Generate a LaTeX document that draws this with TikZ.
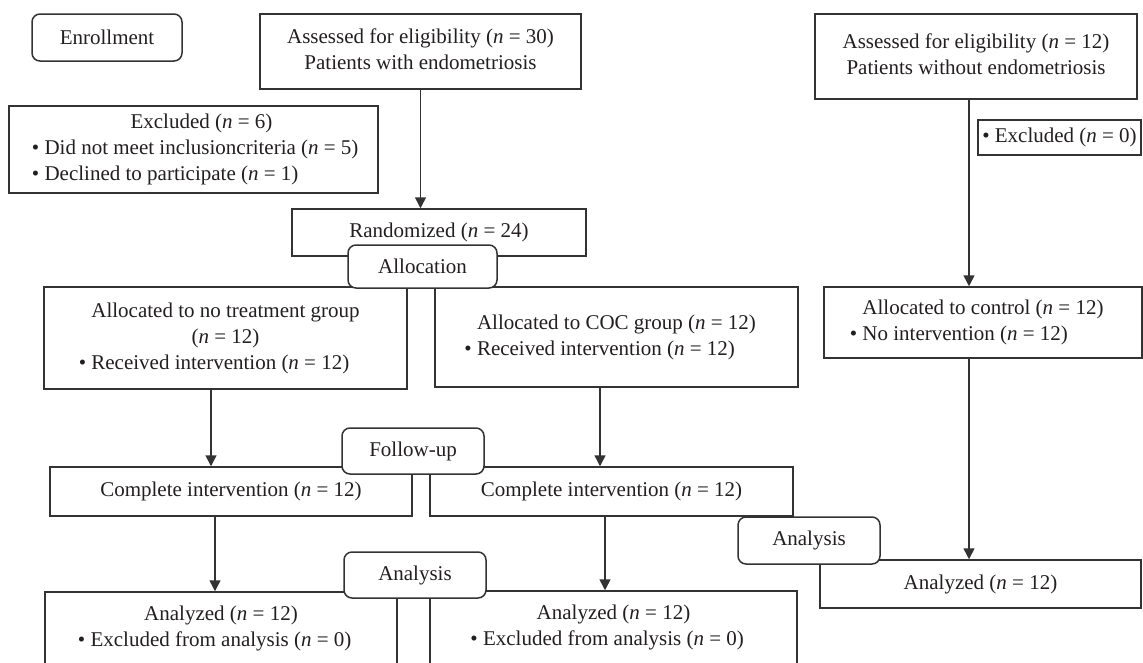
\documentclass[tikz,border=0pt]{standalone}
\usepackage{fontspec}
\setmainfont{Liberation Serif}
\usetikzlibrary{arrows.meta}
\definecolor{linec}{HTML}{333333}
\definecolor{txtc}{HTML}{231F20}
\newcommand{\hangbul}{\llap{\textbullet\ }}
\tikzset{
  flowbox/.style={draw=linec, line width=1.5pt, fill=white, inner sep=0pt, text=txtc,
    font=\fontsize{21}{26}\selectfont},
  stagebox/.style={flowbox, rounded corners=8pt},
  arr/.style={draw=linec, line width=1.5pt, -{Triangle[length=11pt,width=11pt]}}
}
\begin{document}
\begin{tikzpicture}[x=1pt,y=-1pt]
\clip (0,0) rectangle (1143,662);
\fill[white] (0,0) rectangle (1143,662);

% enrollment column
\node[stagebox, minimum width=150, minimum height=47] (enroll) at (107,37.5) {Enrollment};
\node[flowbox, minimum width=321, minimum height=75] (a1) at (420.5,51.5)
  {\begin{tabular}{@{}c@{}}Assessed for eligibility (\textit{n} = 30)\\Patients with endometriosis\end{tabular}};
\node[flowbox, minimum width=369, minimum height=87] (ex1) at (193.5,149.5)
  {\hspace*{16pt}\begin{tabular}{@{}l@{}}\multicolumn{1}{@{}c@{}}{Excluded (\textit{n} = 6)}\\
   \hangbul Did not meet inclusioncriteria (\textit{n} = 5)\\
   \hangbul Declined to participate (\textit{n} = 1)\end{tabular}};
\node[flowbox, minimum width=322, minimum height=85] (a2) at (976,56.5)
  {\begin{tabular}{@{}c@{}}Assessed for eligibility (\textit{n} = 12)\\Patients without endometriosis\end{tabular}};
\node[flowbox, minimum width=163, minimum height=35] (ex2) at (1059.5,137.5)
  {\textbullet\ Excluded (\textit{n} = 0)};
\node[flowbox, minimum width=294, minimum height=47] (rand) at (439,232.5)
  {Randomized (\textit{n} = 24)};

% allocation
\node[flowbox, minimum width=363, minimum height=102] (g1) at (225.5,338)
  {\begin{tabular}{@{}l@{}}Allocated to no treatment group\\
   \multicolumn{1}{@{}c@{}}{(\textit{n} = 12)}\\
   \hangbul Received intervention (\textit{n} = 12)\end{tabular}};
\node[flowbox, minimum width=363, minimum height=100] (g2) at (616.5,337)
  {\begin{tabular}{@{}l@{}}Allocated to COC group (\textit{n} = 12)\\
   \hangbul Received intervention (\textit{n} = 12)\end{tabular}};
\node[flowbox, minimum width=318, minimum height=71] (ctl) at (983,322.5)
  {\begin{tabular}{@{}l@{}}Allocated to control (\textit{n} = 12)\\
   \hangbul No intervention (\textit{n} = 12)\end{tabular}};

% follow-up
\node[flowbox, minimum width=362, minimum height=49] (c1) at (231,491.5)
  {Complete intervention (\textit{n} = 12)};
\node[flowbox, minimum width=363, minimum height=49] (c2) at (611.5,491.5)
  {Complete intervention (\textit{n} = 12)};

% analysis
\node[flowbox, minimum width=321, minimum height=48] (an3) at (980.5,584)
  {Analyzed (\textit{n} = 12)};
\node[flowbox, minimum width=352, minimum height=73] (an1) at (221,628.5)
  {\begin{tabular}{@{}l@{}}\multicolumn{1}{@{}c@{}}{Analyzed (\textit{n} = 12)}\\
   \hangbul Excluded from analysis (\textit{n} = 0)\end{tabular}};
\node[flowbox, minimum width=367, minimum height=73] (an2) at (613.5,627.5)
  {\begin{tabular}{@{}l@{}}\multicolumn{1}{@{}c@{}}{Analyzed (\textit{n} = 12)}\\
   \hangbul Excluded from analysis (\textit{n} = 0)\end{tabular}};

% connectors
\draw[arr] (a1.south) -- (a1.south |- rand.north);
\draw[arr] ([xshift=-14.5pt]g1.south) -- ([xshift=-14.5pt]g1.south |- c1.north);
\draw[arr] ([xshift=-16.5pt]g2.south) -- ([xshift=-16.5pt]g2.south |- c2.north);
\draw[arr] ([xshift=-16pt]c1.south) -- ([xshift=-16pt]c1.south |- an1.north);
\draw[arr] ([xshift=-6.5pt]c2.south) -- ([xshift=-6.5pt]c2.south |- an2.north);
\draw[arr] ([xshift=-7pt]a2.south) -- ([xshift=-7pt]a2.south |- ctl.north);
\draw[arr] ([xshift=-14pt]ctl.south) -- ([xshift=-14pt]ctl.south |- an3.north);

% stage labels on top
\node[stagebox, minimum width=149, minimum height=43] (alloc) at (422.5,266.5) {Allocation};
\node[stagebox, minimum width=142, minimum height=46] (fu) at (413,451) {Follow-up};
\node[stagebox, minimum width=142, minimum height=46] (ana1) at (415,575) {Analysis};
\node[stagebox, minimum width=142, minimum height=47] (ana2) at (809,540.5) {Analysis};
\end{tikzpicture}
\end{document}
